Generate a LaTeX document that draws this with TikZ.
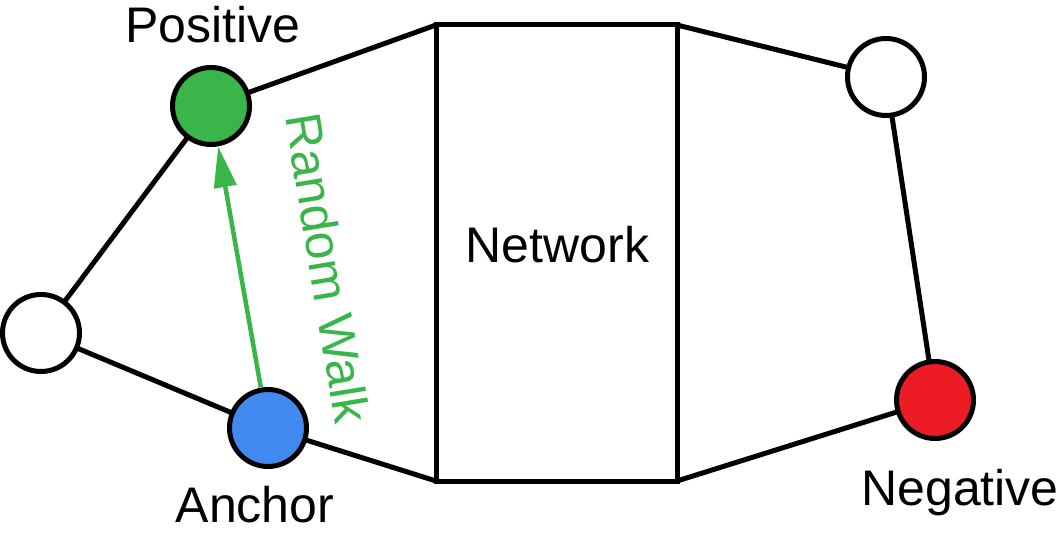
\documentclass[tikz,border=0pt]{standalone}
\usepackage{fontspec}
\setmainfont{Liberation Sans}
\usetikzlibrary{arrows.meta}
\definecolor{walkgreen}{RGB}{57,181,74}
\definecolor{anchorblue}{RGB}{65,137,239}
\definecolor{negred}{RGB}{237,28,36}
\tikzset{
  vertex/.style={circle,draw=black,line width=5pt,minimum size=77pt,inner sep=0pt,outer sep=0pt,fill=white},
  edge/.style={draw=black,line width=5pt},
  netbox/.style={rectangle,draw=black,line width=5pt,minimum width=241pt,minimum height=456pt,inner sep=0pt,outer sep=0pt},
  lbl/.style={font=\fontsize{50}{60}\selectfont,inner sep=0pt,anchor=base},
}
\begin{document}
\begin{tikzpicture}[x=1pt,y=-1pt]
\useasboundingbox (0,0) rectangle (1060,534);
\node[netbox] (net) at (556.5,253) {};
\node[vertex,fill=walkgreen] (pos) at (211,106) {};
\node[vertex] (left) at (41,333) {};
\node[vertex,fill=anchorblue] (anc) at (268,428) {};
\node[vertex] (tr) at (886,77) {};
\node[vertex,fill=negred] (neg) at (935,400) {};
\draw[edge] (left) -- (pos);
\draw[edge] (left) -- (anc);
\draw[edge] (pos) -- (net.north west);
\draw[edge] (anc) -- (net.south west);
\draw[edge] (net.north east) -- (tr);
\draw[edge] (net.south east) -- (neg);
\draw[edge] (tr) -- (neg);
\draw[draw=walkgreen,line width=4.5pt,-{Triangle[length=41pt,width=22pt]},shorten <=2.5pt,shorten >=2.5pt] (anc) -- (pos);
\node[lbl] (netlbl) at (557.5,263) {Network};
\node[lbl] (poslbl) at (213,43) {Positive};
\node[lbl] (anclbl) at (255,522) {Anchor};
\node[lbl] (neglbl) at (960,505) {Negative};
\node[font=\fontsize{50}{60}\selectfont,inner sep=0pt,text=walkgreen,rotate=-80.7] (walk) at (328,268) {Random Walk};
\end{tikzpicture}
\end{document}
